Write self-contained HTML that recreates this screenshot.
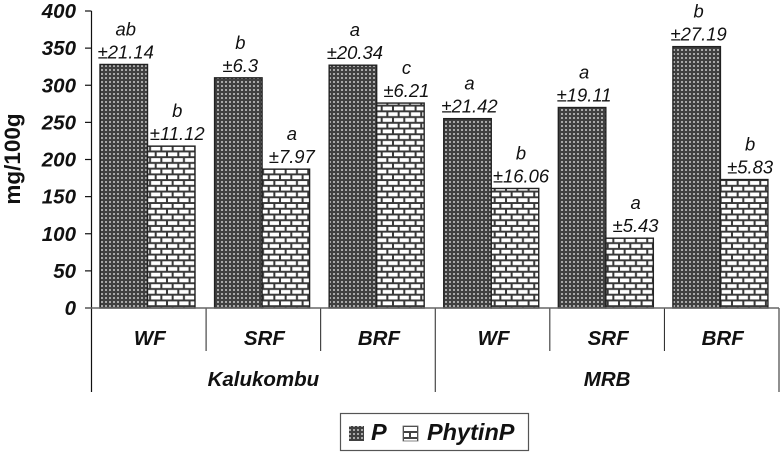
<!DOCTYPE html>
<html>
<head>
<meta charset="utf-8">
<style>
html,body{margin:0;padding:0;background:#fff;}
svg{display:block;}
text{font-family:"Liberation Sans",sans-serif;font-style:italic;fill:#111;}
</style>
</head>
<body>
<svg id="chart" width="782" height="452" viewBox="0 0 782 452" xmlns="http://www.w3.org/2000/svg">
<defs>
<pattern id="dots" width="4" height="4" patternUnits="userSpaceOnUse" x="0" y="0">
<rect width="4" height="4" fill="#404040"/>
<rect x="1" y="1" width="2" height="2" fill="#a8a8a8"/>
</pattern>
<pattern id="bricks" width="11.3" height="11.46" patternUnits="userSpaceOnUse" patternTransform="translate(8.8,294.67)">
<rect width="11.3" height="11.46" fill="#383838"/>
<rect x="1" y="6.73" width="9.3" height="3.8" fill="#fff"/>
<rect x="6.65" y="1" width="9.3" height="3.8" fill="#fff"/>
<rect x="-4.65" y="1" width="9.3" height="3.8" fill="#fff"/>
</pattern>
<pattern id="legend-bricks" width="15" height="12" patternUnits="userSpaceOnUse" patternTransform="translate(403,426)">
<rect width="15" height="12" fill="#444"/>
<rect x="1" y="1" width="13" height="4" fill="#fff"/>
<rect x="1" y="7" width="5" height="4" fill="#fff"/>
<rect x="8" y="7" width="6" height="4" fill="#fff"/>
</pattern>
</defs>
<g id="plot"></g>
<text transform="translate(20,159) rotate(-90)" text-anchor="middle" font-size="22.5" font-weight="bold" style="font-style:normal">mg/100g</text>
<g>
<rect x="340.5" y="413.5" width="188" height="37" fill="#fff" stroke="#555" stroke-width="1.2"/>
<rect x="349" y="426" width="15" height="15" fill="url(#dots)"/>
<text x="371" y="440" font-size="23.5" font-weight="bold">P</text>
<rect x="403" y="426" width="15" height="15" fill="url(#legend-bricks)" stroke="#666" stroke-width="0.8"/>
<text x="427" y="440" font-size="23.5" font-weight="bold">PhytinP</text>
</g>
</svg>
<script>
const categories = ['WF','SRF','BRF','WF','SRF','BRF'];
const groups = ['Kalukombu','MRB'];
const pValues = [328,310,327,255,270,352];
const phytinValues = [218,187,276,161,94,173];
const pErrors = ['±21.14','±6.3','±20.34','±21.42','±19.11','±27.19'];
const phytinErrors = ['±11.12','±7.97','±6.21','±16.06','±5.43','±5.83'];
const pLetters = ['ab','b','a','a','a','b'];
const phytinLetters = ['b','a','c','b','a','b'];
const yTicks = [0,50,100,150,200,250,300,350,400];

const NS = 'http://www.w3.org/2000/svg';
const plot = document.getElementById('plot');
const left = 91.5, right = 779, y0 = 308, yTop = 11, yMax = 400;
const catW = (right - left) / categories.length;
const barW = 47.5, barInset = 8.5;
const y = v => y0 - (v / yMax) * (y0 - yTop);
const x = i => left + i * catW;

function make(tag, attrs, text) {
  const el = document.createElementNS(NS, tag);
  for (const k in attrs) el.setAttribute(k, attrs[k]);
  if (text !== undefined) el.textContent = text;
  plot.appendChild(el);
  return el;
}

yTicks.forEach(t => {
  const tick = make('line', {x1: 85, x2: left, y1: y(t), y2: y(t), stroke: '#111', 'stroke-width': 1.2});
  
  
  const label = make('text', {x: 76, y: y(t) + 7, 'text-anchor': 'end', 'font-size': 20.5, 'font-weight': 'bold'}, t);
  
  
});

function drawBar(i, value, offset, fill, err, letter, labelShift, name) {
  const bx = x(i) + offset;
  const by = y(value);
  const bar = make('rect', {x: bx, y: by, width: barW, height: y0 - by, fill: fill, stroke: '#222', 'stroke-width': 1.4});
  
  
  const e = make('text', {x: bx + barW / 2 + labelShift, y: by - 6, 'text-anchor': 'middle', 'font-size': 18.4}, err);
  
  
  const l = make('text', {x: bx + barW / 2 + labelShift, y: by - 29, 'text-anchor': 'middle', 'font-size': 18.4}, letter);
  
  
}

categories.forEach((c, i) => {
  drawBar(i, pValues[i], barInset, 'url(#dots)', pErrors[i], pLetters[i], 2, 'p');
  drawBar(i, phytinValues[i], barInset + barW, 'url(#bricks)', phytinErrors[i], phytinLetters[i], 6, 'phytinp');
  const cat = make('text', {x: x(i) + catW / 2 + 1, y: 345, 'text-anchor': 'middle', 'font-size': 20.5, 'font-weight': 'bold'}, c);
  
  
});

for (let i = 1; i < categories.length; i++) {
  const major = i % (categories.length / groups.length) === 0;
  const sep = make('line', {x1: x(i), x2: x(i), y1: y0, y2: major ? 392 : 351, stroke: '#222', 'stroke-width': 1});
  
  
}

groups.forEach((g, i) => {
  const w = (right - left) / groups.length;
  const t = make('text', {x: left + i * w + w / 2, y: 386, 'text-anchor': 'middle', 'font-size': 20.5, 'font-weight': 'bold'}, g);
  
  
});

const yAxis = make('line', {x1: left, x2: left, y1: yTop, y2: 392, stroke: '#111', 'stroke-width': 1.2});


const rightEdge = make('line', {x1: right, x2: right, y1: y0, y2: 392, stroke: '#222', 'stroke-width': 1});


const xAxis = make('line', {x1: 85, x2: right, y1: y0, y2: y0, stroke: '#666', 'stroke-width': 1.6});


</script>
</body>
</html>
